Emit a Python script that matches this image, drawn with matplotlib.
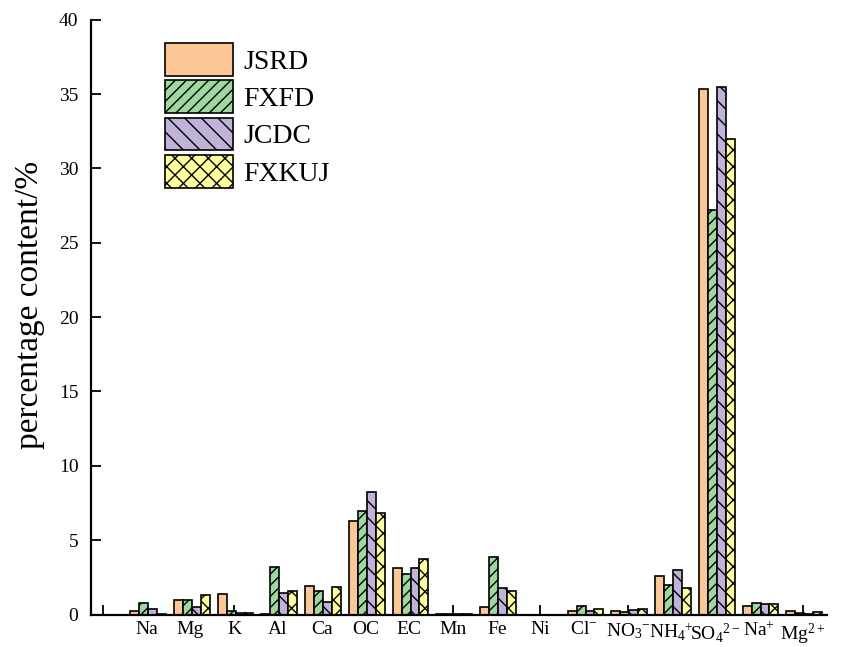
import matplotlib
matplotlib.use("Agg")
import matplotlib.pyplot as plt
import numpy as np

plt.rcParams['font.family'] = ['Liberation Serif', 'DejaVu Serif']
plt.rcParams['mathtext.fontset'] = 'custom'
plt.rcParams['mathtext.rm'] = 'Liberation Serif'
plt.rcParams['mathtext.it'] = 'Liberation Serif:italic'
plt.rcParams['hatch.linewidth'] = 1.0

categories = ['Na', 'Mg', 'K', 'Al', 'Ca', 'OC', 'EC', 'Mn', 'Fe', 'Ni',
              r'Cl$^{\mathregular{-}}$', r'NO$_{\mathregular{3}}$$^{\mathregular{-}}$',
              r'NH$_{\mathregular{4}}$$^{\mathregular{+}}$',
              r'SO$_{\mathregular{4}}$$^{\mathregular{2-}}$',
              r'Na$^{\mathregular{+}}$', r'Mg$^{\mathregular{2+}}$']

series_names = ['JSRD', 'FXFD', 'JCDC', 'FXKUJ']
jsrd  = [0.25, 1.00, 1.40, 0.05, 1.90, 6.30, 3.15, 0.02, 0.48, 0.0, 0.25, 0.25, 2.60, 35.35, 0.60, 0.25]
fxfd  = [0.75, 0.95, 0.25, 3.20, 1.55, 6.95, 2.75, 0.02, 3.90, 0.0, 0.55, 0.20, 2.00, 27.20, 0.75, 0.08]
jcdc  = [0.38, 0.50, 0.08, 1.45, 0.85, 8.25, 3.10, 0.02, 1.75, 0.0, 0.25, 0.30, 3.00, 35.50, 0.70, 0.05]
fxkuj = [0.05, 1.28, 0.08, 1.55, 1.88, 6.85, 3.75, 0.02, 1.60, 0.0, 0.38, 0.40, 1.80, 32.00, 0.70, 0.15]

colors = ['#FDC795', '#9DD89E', '#C0B2D8', '#FFFF9C']
hatches = ['', '///', '\\\\', 'xx']

fig = plt.figure(figsize=(8.54, 6.47), dpi=100)
ax = fig.add_axes([91/854, 1-614.5/647, (827-91)/854, (614.5-19.7)/647])

x = np.arange(1, len(categories)+1)
w = 0.205
data = [jsrd, fxfd, jcdc, fxkuj]
for i, (vals, c, h, name) in enumerate(zip(data, colors, hatches, series_names)):
    ax.bar(x + (i-1.5)*w + 0.03, vals, width=w, color=c, edgecolor='black',
           linewidth=1.2, hatch=h, label=name, zorder=2)

ax.set_xlim(-0.274, 16.55)
ax.set_ylim(0, 40)
ax.set_yticks(np.arange(0, 41, 5))
ax.set_xticks(np.arange(0, 17))
ax.set_xticklabels([''] + categories)
ax.set_axisbelow(True)
ax.tick_params(axis='both', direction='in', length=7, width=1.3, labelsize=14)
ax.tick_params(axis='x', pad=5)
ax.tick_params(axis='y', pad=9)
for s in ['top', 'right']:
    ax.spines[s].set_visible(False)
for s in ['left', 'bottom']:
    ax.spines[s].set_linewidth(1.6)
    ax.spines[s].set_zorder(3)

ax.set_ylabel('percentage content/%', fontsize=24)
ax.yaxis.set_label_coords(-0.062, 0.52)

leg = ax.legend(loc='upper left', bbox_to_anchor=(165/854, 1-43/647),
                bbox_transform=fig.transFigure, frameon=False, fontsize=20,
                handlelength=2.45, handleheight=1.43, labelspacing=0.17,
                handletextpad=0.36, borderpad=0, borderaxespad=0)

fig.savefig('out.png', dpi=100)
